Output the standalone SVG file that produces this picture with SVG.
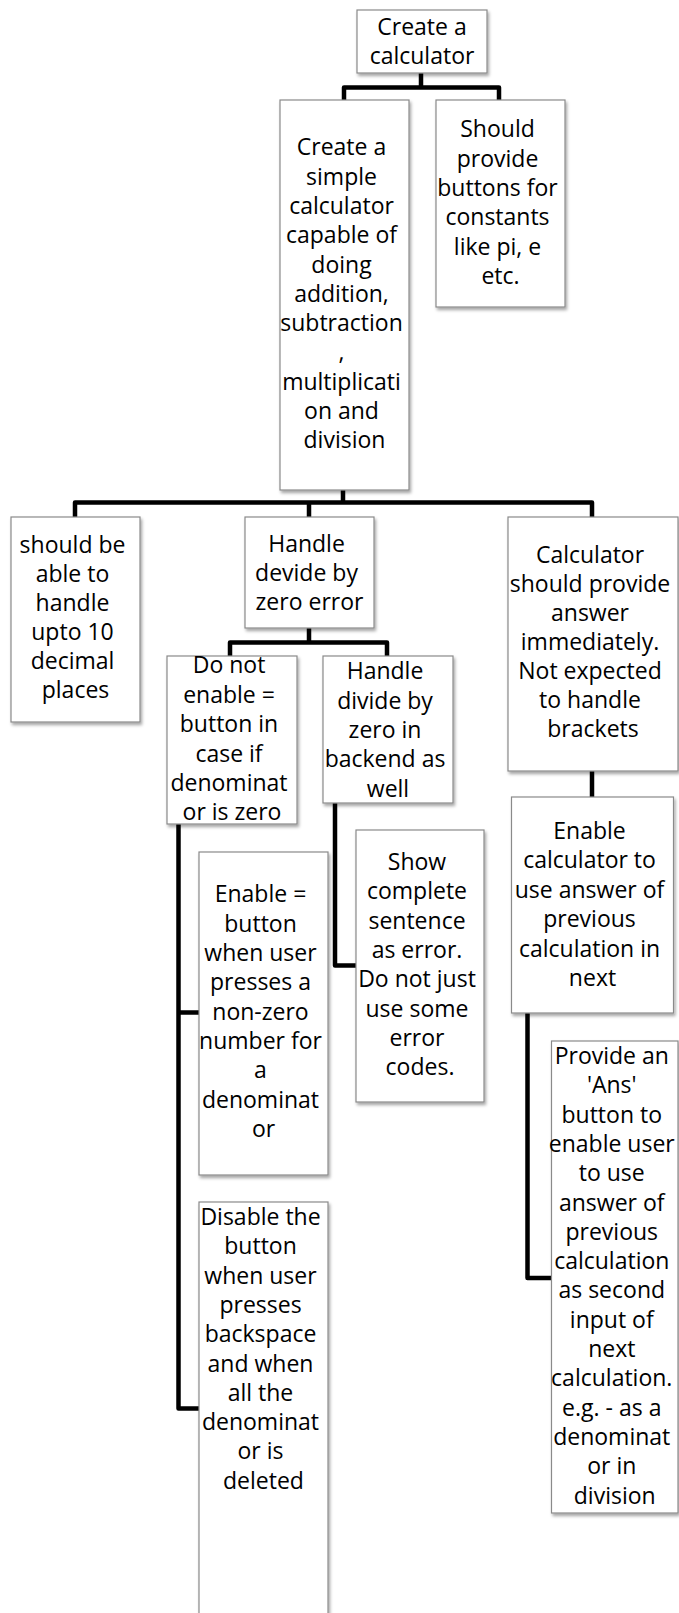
<svg xmlns="http://www.w3.org/2000/svg" width="679" height="1613" viewBox="0 0 679 1613">
  <defs>
    <filter id="shadow" x="-10%" y="-10%" width="130%" height="130%">
      <feDropShadow dx="1.5" dy="2.5" stdDeviation="1.5" flood-color="#000" flood-opacity="0.35"/>
    </filter>
  </defs>
  <style>
    .box { fill: #ffffff; stroke: #8a8a8a; stroke-width: 1.2; filter: url(#shadow); }
    .lbl { font-family: "Open Sans", "Noto Sans", sans-serif; font-size: 23px; fill: #000; text-anchor: middle; }
    .wire { fill: none; stroke: #000; stroke-width: 4.5; stroke-linejoin: round; stroke-linecap: butt; }
  </style>
  <rect width="679" height="1613" fill="#ffffff"/>

  <!-- connectors -->
  <g id="connectors">
    <path class="wire" d="M421,73 V87.5 M344,100 V87.5 H499 V100"/>
    <path class="wire" d="M343,490 V502.5 M75,517 V502.5 H592 V517 M309,502.5 V517"/>
    <path class="wire" d="M309,628 V642.5 M230,656 V642.5 H387 V656"/>
    <path class="wire" d="M592,771 V797"/>
    <path class="wire" d="M178.5,824 V1408.5 H199 M178.5,1012.5 H199"/>
    <path class="wire" d="M335,803 V965.5 H356"/>
    <path class="wire" d="M527.5,1013 V1278 H552"/>
  </g>

  <!-- nodes -->
  <g id="n-root">
    <rect class="box" x="357" y="10" width="130" height="63"/>
    <text class="lbl" x="422" y="35"><tspan x="422">Create a</tspan><tspan x="422" dy="29">calculator</tspan></text>
  </g>

  <g id="n-simple">
    <rect class="box" x="280" y="100" width="129" height="390"/>
    <text class="lbl" x="344.5" y="155.3">
      <tspan x="344.5">Create a</tspan>
      <tspan x="344.5" dy="29.3">simple</tspan>
      <tspan x="344.5" dy="29.3">calculator</tspan>
      <tspan x="344.5" dy="29.3">capable of</tspan>
      <tspan x="344.5" dy="29.3">doing</tspan>
      <tspan x="344.5" dy="29.3">addition,</tspan>
      <tspan x="344.5" dy="29.3">subtraction</tspan>
      <tspan x="344.5" dy="29.3">,</tspan>
      <tspan x="344.5" dy="29.3">multiplicati</tspan>
      <tspan x="344.5" dy="29.3">on and</tspan>
      <tspan x="344.5" dy="29.3">division</tspan>
    </text>
  </g>

  <g id="n-constants">
    <rect class="box" x="436" y="100" width="129" height="207"/>
    <text class="lbl" x="500.5" y="137.3">
      <tspan x="500.5">Should</tspan>
      <tspan x="500.5" dy="29.3">provide</tspan>
      <tspan x="500.5" dy="29.3">buttons for</tspan>
      <tspan x="500.5" dy="29.3">constants</tspan>
      <tspan x="500.5" dy="29.3">like pi, e</tspan>
      <tspan x="500.5" dy="29.3">etc.</tspan>
    </text>
  </g>

  <g id="n-decimal">
    <rect class="box" x="11" y="517" width="129" height="205"/>
    <text class="lbl" x="75.5" y="553.3">
      <tspan x="75.5">should be</tspan>
      <tspan x="75.5" dy="28.9">able to</tspan>
      <tspan x="75.5" dy="28.9">handle</tspan>
      <tspan x="75.5" dy="28.9">upto 10</tspan>
      <tspan x="75.5" dy="28.9">decimal</tspan>
      <tspan x="75.5" dy="28.9">places</tspan>
    </text>
  </g>

  <g id="n-devide">
    <rect class="box" x="245" y="517" width="129" height="111"/>
    <text class="lbl" x="309.5" y="551.7">
      <tspan x="309.5">Handle</tspan>
      <tspan x="309.5" dy="29.3">devide by</tspan>
      <tspan x="309.5" dy="29.3">zero error</tspan>
    </text>
  </g>

  <g id="n-immediate">
    <rect class="box" x="508" y="517" width="170" height="254"/>
    <text class="lbl" x="593" y="563.3">
      <tspan x="593">Calculator</tspan>
      <tspan x="593" dy="29">should provide</tspan>
      <tspan x="593" dy="29">answer</tspan>
      <tspan x="593" dy="29">immediately.</tspan>
      <tspan x="593" dy="29">Not expected</tspan>
      <tspan x="593" dy="29">to handle</tspan>
      <tspan x="593" dy="29">brackets</tspan>
    </text>
  </g>

  <g id="n-donotenable">
    <rect class="box" x="167" y="656" width="130" height="168"/>
    <text class="lbl" x="232" y="673.3">
      <tspan x="232">Do not</tspan>
      <tspan x="232" dy="29.4">enable =</tspan>
      <tspan x="232" dy="29.4">button in</tspan>
      <tspan x="232" dy="29.4">case if</tspan>
      <tspan x="232" dy="29.4">denominat</tspan>
      <tspan x="232" dy="29.4">or is zero</tspan>
    </text>
  </g>

  <g id="n-backend">
    <rect class="box" x="323" y="656" width="130" height="147"/>
    <text class="lbl" x="388" y="679.3">
      <tspan x="388">Handle</tspan>
      <tspan x="388" dy="29.3">divide by</tspan>
      <tspan x="388" dy="29.3">zero in</tspan>
      <tspan x="388" dy="29.3">backend as</tspan>
      <tspan x="388" dy="29.3">well</tspan>
    </text>
  </g>

  <g id="n-useanswer">
    <rect class="box" x="511.5" y="797" width="162" height="216"/>
    <text class="lbl" x="592.5" y="838.5">
      <tspan x="592.5">Enable</tspan>
      <tspan x="592.5" dy="29.5">calculator to</tspan>
      <tspan x="592.5" dy="29.5">use answer of</tspan>
      <tspan x="592.5" dy="29.5">previous</tspan>
      <tspan x="592.5" dy="29.5">calculation in</tspan>
      <tspan x="592.5" dy="29.5">next</tspan>
    </text>
  </g>

  <g id="n-sentence">
    <rect class="box" x="356" y="830" width="128" height="272"/>
    <text class="lbl" x="420" y="870">
      <tspan x="420">Show</tspan>
      <tspan x="420" dy="29.3">complete</tspan>
      <tspan x="420" dy="29.3">sentence</tspan>
      <tspan x="420" dy="29.3">as error.</tspan>
      <tspan x="420" dy="29.3">Do not just</tspan>
      <tspan x="420" dy="29.3">use some</tspan>
      <tspan x="420" dy="29.3">error</tspan>
      <tspan x="420" dy="29.3">codes.</tspan>
    </text>
  </g>

  <g id="n-enable">
    <rect class="box" x="199" y="852" width="129" height="323"/>
    <text class="lbl" x="263.5" y="902.4">
      <tspan x="263.5">Enable =</tspan>
      <tspan x="263.5" dy="29.3">button</tspan>
      <tspan x="263.5" dy="29.3">when user</tspan>
      <tspan x="263.5" dy="29.3">presses a</tspan>
      <tspan x="263.5" dy="29.3">non-zero</tspan>
      <tspan x="263.5" dy="29.3">number for</tspan>
      <tspan x="263.5" dy="29.3">a</tspan>
      <tspan x="263.5" dy="29.3">denominat</tspan>
      <tspan x="263.5" dy="29.3">or</tspan>
    </text>
  </g>

  <g id="n-disable">
    <rect class="box" x="199" y="1202" width="129" height="430"/>
    <text class="lbl" x="263.5" y="1225">
      <tspan x="263.5">Disable the</tspan>
      <tspan x="263.5" dy="29.3">button</tspan>
      <tspan x="263.5" dy="29.3">when user</tspan>
      <tspan x="263.5" dy="29.3">presses</tspan>
      <tspan x="263.5" dy="29.3">backspace</tspan>
      <tspan x="263.5" dy="29.3">and when</tspan>
      <tspan x="263.5" dy="29.3">all the</tspan>
      <tspan x="263.5" dy="29.3">denominat</tspan>
      <tspan x="263.5" dy="29.3">or is</tspan>
      <tspan x="263.5" dy="29.3">deleted</tspan>
    </text>
  </g>

  <g id="n-ans">
    <rect class="box" x="551.5" y="1041" width="126.5" height="472"/>
    <text class="lbl" x="614.75" y="1064">
      <tspan x="614.75">Provide an</tspan>
      <tspan x="614.75" dy="29.3">'Ans'</tspan>
      <tspan x="614.75" dy="29.3">button to</tspan>
      <tspan x="614.75" dy="29.3">enable user</tspan>
      <tspan x="614.75" dy="29.3">to use</tspan>
      <tspan x="614.75" dy="29.3">answer of</tspan>
      <tspan x="614.75" dy="29.3">previous</tspan>
      <tspan x="614.75" dy="29.3">calculation</tspan>
      <tspan x="614.75" dy="29.3">as second</tspan>
      <tspan x="614.75" dy="29.3">input of</tspan>
      <tspan x="614.75" dy="29.3">next</tspan>
      <tspan x="614.75" dy="29.3">calculation.</tspan>
      <tspan x="614.75" dy="29.3">e.g. - as a</tspan>
      <tspan x="614.75" dy="29.3">denominat</tspan>
      <tspan x="614.75" dy="29.3">or in</tspan>
      <tspan x="614.75" dy="29.3">division</tspan>
    </text>
  </g>
</svg>
